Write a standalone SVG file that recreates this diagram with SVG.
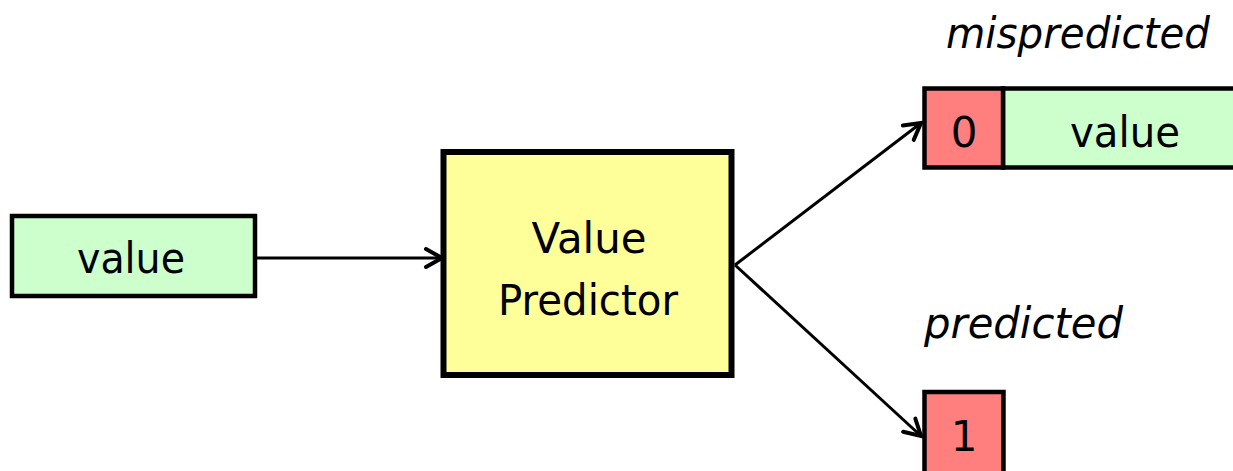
<svg xmlns="http://www.w3.org/2000/svg" width="1233" height="471" viewBox="0 0 1233 471">
  <style>
    .box { stroke: #000; stroke-width: 4.5; }
    .green { fill: #ccffcc; }
    .red { fill: #ff7f7f; }
    .yellow { fill: #ffff99; stroke: #000; stroke-width: 6; }
    .lbl { font-family: "DejaVu Sans", "Liberation Sans", sans-serif; font-size: 42px; fill: #000; text-anchor: middle; }
    .note { font-family: "DejaVu Sans", "Liberation Sans", sans-serif; font-size: 42px; font-style: italic; fill: #000; }
    .wire { stroke: #000; stroke-width: 3; fill: none; }
  </style>
  <defs>
    <marker id="open-arrow" markerUnits="userSpaceOnUse" markerWidth="26" markerHeight="26" refX="21" refY="13" orient="auto" viewBox="0 0 26 26">
      <path d="M5,4 L21,13 L5,22" fill="none" stroke="#000" stroke-width="4" stroke-linecap="round" stroke-linejoin="miter"/>
    </marker>
  </defs>

  <rect width="1233" height="471" fill="#fff"/>

  <g id="input-value">
    <rect class="box green" x="12" y="216" width="243" height="80"/>
    <text class="lbl" x="131" y="273" textLength="108" lengthAdjust="spacingAndGlyphs">value</text>
  </g>

  <g id="value-predictor">
    <rect class="yellow" x="443.5" y="152" width="288" height="223"/>
    <text class="lbl" x="589" y="253" textLength="115" lengthAdjust="spacingAndGlyphs">Value</text>
    <text class="lbl" x="588" y="315" textLength="180" lengthAdjust="spacingAndGlyphs">Predictor</text>
  </g>

  <g id="mispredicted-output">
    <text class="note" x="946" y="48" textLength="264" lengthAdjust="spacingAndGlyphs">mispredicted</text>
    <rect class="box green" x="1003" y="88.5" width="250" height="79"/>
    <text class="lbl" x="1125" y="147" textLength="110" lengthAdjust="spacingAndGlyphs">value</text>
    <rect class="box red" x="924.5" y="88.5" width="78.5" height="79"/>
    <text class="lbl" x="964" y="147">0</text>
  </g>

  <g id="predicted-output">
    <text class="note" x="924" y="338" textLength="199" lengthAdjust="spacingAndGlyphs">predicted</text>
    <rect class="box red" x="924.5" y="392" width="79" height="100"/>
    <text class="lbl" x="964" y="451">1</text>
  </g>

  <g id="connectors">
    <line class="wire" x1="257" y1="258" x2="442" y2="258" marker-end="url(#open-arrow)"/>
    <line class="wire" x1="735" y1="265" x2="921" y2="123" marker-end="url(#open-arrow)"/>
    <line class="wire" x1="735" y1="265" x2="921" y2="436" marker-end="url(#open-arrow)"/>
  </g>
</svg>
